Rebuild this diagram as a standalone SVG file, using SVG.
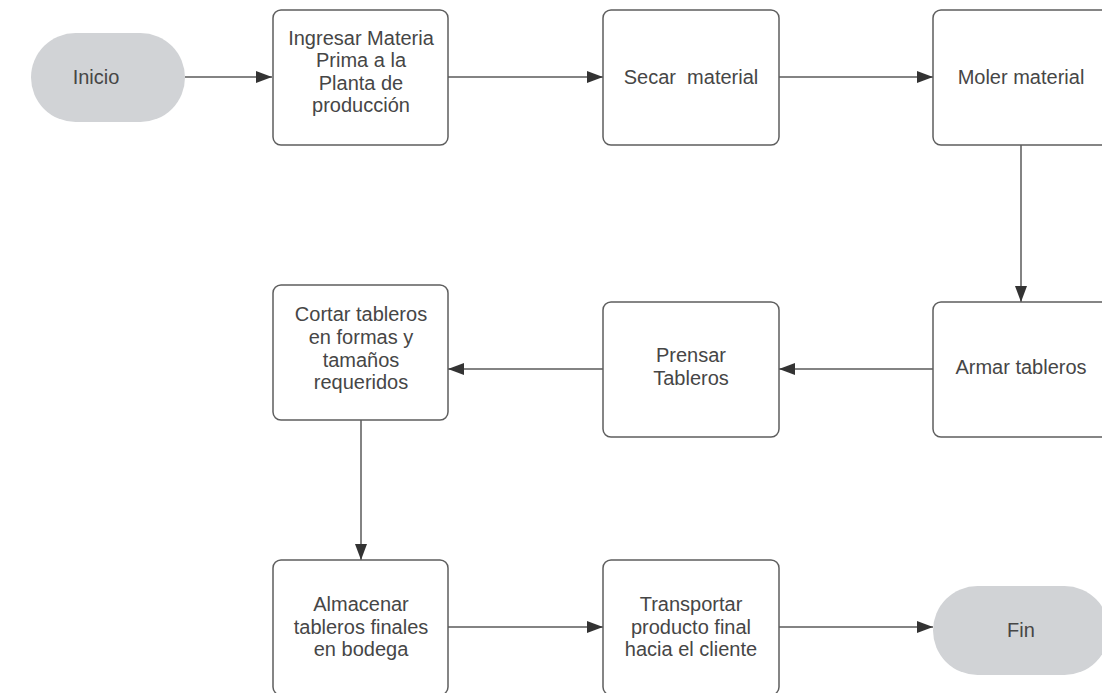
<svg xmlns="http://www.w3.org/2000/svg" width="1102" height="693" viewBox="0 0 1102 693">
<style>
.box{fill:#ffffff;stroke:#5e5e5e;stroke-width:1.5}
.pill{fill:#d1d3d6;stroke:none}
.t{font-family:"Liberation Sans",Arial,sans-serif;font-size:20px;fill:#464646;text-anchor:middle;dominant-baseline:central}
.c{fill:none;stroke:#5a5a5a;stroke-width:1.5;marker-end:url(#ah)}
</style>
<defs>
<marker id="ah" viewBox="0 0 16 12" refX="16" refY="6" markerWidth="16" markerHeight="12" markerUnits="userSpaceOnUse" orient="auto">
<path d="M0,0 L16,6 L0,12 z" fill="#333333"/>
</marker>
</defs>
<rect width="1102" height="693" fill="#ffffff"/>
<g id="connectors">
<line class="c" x1="185" y1="77" x2="272" y2="77"/>
<line class="c" x1="448" y1="77" x2="603" y2="77"/>
<line class="c" x1="779" y1="77" x2="933" y2="77"/>
<line class="c" x1="1021" y1="145" x2="1021" y2="302"/>
<line class="c" x1="933" y1="369" x2="779" y2="369"/>
<line class="c" x1="603" y1="369" x2="448" y2="369"/>
<line class="c" x1="361" y1="420" x2="361" y2="560"/>
<line class="c" x1="448" y1="627" x2="603" y2="627"/>
<line class="c" x1="779" y1="627" x2="933" y2="627"/>
</g>
<g id="inicio">
<rect class="pill" x="31" y="33" width="154" height="89" rx="44.5"/>
<text class="t" x="96" y="77">Inicio</text>
</g>
<g id="ingresar">
<rect class="box" x="273" y="10" width="175" height="135" rx="8"/>
<text class="t" x="361" y="38">Ingresar Materia</text>
<text class="t" x="361" y="60">Prima a la</text>
<text class="t" x="361" y="83">Planta de</text>
<text class="t" x="361" y="105">producción</text>
</g>
<g id="secar">
<rect class="box" x="603" y="10" width="176" height="135" rx="8"/>
<text class="t" x="691" y="77">Secar&#160; material</text>
</g>
<g id="moler">
<rect class="box" x="933" y="10" width="176" height="135" rx="8"/>
<text class="t" x="1021" y="77">Moler material</text>
</g>
<g id="armar">
<rect class="box" x="933" y="302" width="176" height="135" rx="8"/>
<text class="t" x="1021" y="367">Armar tableros</text>
</g>
<g id="prensar">
<rect class="box" x="603" y="302" width="176" height="135" rx="8"/>
<text class="t" x="691" y="355">Prensar</text>
<text class="t" x="691" y="378">Tableros</text>
</g>
<g id="cortar">
<rect class="box" x="273" y="285" width="175" height="135" rx="8"/>
<text class="t" x="361" y="314">Cortar tableros</text>
<text class="t" x="361" y="337">en formas y</text>
<text class="t" x="361" y="360">tamaños</text>
<text class="t" x="361" y="382">requeridos</text>
</g>
<g id="almacenar">
<rect class="box" x="273" y="560" width="175" height="135" rx="8"/>
<text class="t" x="361" y="604">Almacenar</text>
<text class="t" x="361" y="627">tableros finales</text>
<text class="t" x="361" y="649">en bodega</text>
</g>
<g id="transportar">
<rect class="box" x="603" y="560" width="176" height="135" rx="8"/>
<text class="t" x="691" y="604">Transportar</text>
<text class="t" x="691" y="627">producto final</text>
<text class="t" x="691" y="649">hacia el cliente</text>
</g>
<g id="fin">
<rect class="pill" x="933" y="586" width="176" height="89" rx="44.5"/>
<text class="t" x="1021" y="630">Fin</text>
</g>
</svg>
